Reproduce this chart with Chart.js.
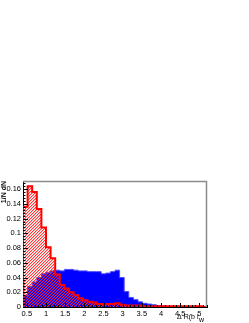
<!DOCTYPE html>
<html>
<head>
<meta charset="utf-8">
<script src="https://cdn.jsdelivr.net/npm/chart.js@4.4.0/dist/chart.umd.min.js"></script>
<style>
  html, body { margin: 0; padding: 0; background: #fff; }
  #wrap { width: 249px; height: 323px; }
</style>
</head>
<body>
<div id="wrap"><canvas id="drChart" width="249" height="323"></canvas></div>
<script>
// histogram binning: 40 bins of 0.12 from 0.4 to 5.2
const binLow = 0.4;
const binWidth = 0.12;

// red hatched histogram (normalised)
const redValues = [
  0.019, 0.136, 0.164, 0.156, 0.133, 0.108, 0.081, 0.066, 0.044, 0.030,
  0.025, 0.020, 0.016, 0.012, 0.009, 0.007, 0.006, 0.004, 0.004, 0.004,
  0.004, 0.005, 0.003, 0.002, 0.002, 0.002, 0.002, 0.001, 0.001, 0.001,
  0.001, 0.001, 0.001, 0.001, 0.001, 0.001, 0.001, 0.001, 0.001, 0.001
];

// solid blue histogram (normalised)
const blueValues = [
  0.007, 0.016, 0.028, 0.034, 0.040, 0.045, 0.047, 0.049, 0.050, 0.049,
  0.051, 0.051, 0.050, 0.049, 0.049, 0.048, 0.048, 0.048, 0.045, 0.046,
  0.048, 0.050, 0.040, 0.021, 0.013, 0.010, 0.007, 0.005, 0.004, 0.003,
  0.002, 0.0015, 0.001, 0.001, 0.001, 0.0005, 0, 0, 0, 0
];

const xTickValues = [0.5, 1, 1.5, 2, 2.5, 3, 3.5, 4, 4.5, 5];
const xTickLabels = ["0.5", "1", "1.5", "2", "2.5", "3", "3.5", "4", "4.5", "5"];
const yTickValues = [0, 0.02, 0.04, 0.06, 0.08, 0.1, 0.12, 0.14, 0.16];
const yTickLabels = ["0", "0.02", "0.04", "0.06", "0.08", "0.1", "0.12", "0.14", "0.16"];

const xMin = 0.4, xMax = 5.2;
const yMin = 0, yMax = 0.171;

const tickFont = { family: "'Liberation Sans', Arial, sans-serif", size: 7.5 };

// build step outline points from bin values
function stepPoints(values) {
  const pts = [{ x: binLow, y: 0 }];
  values.forEach((v, i) => pts.push({ x: binLow + i * binWidth, y: v }));
  pts.push({ x: binLow + values.length * binWidth, y: 0 });
  return pts;
}

// diagonal red hatch, set pixel by pixel so there is no antialiasing
function makeHatch(target) {
  const n = 3;
  const c = document.createElement("canvas");
  c.width = n;
  c.height = n;
  const g = c.getContext("2d");
  const img = g.createImageData(n, n);
  for (let yy = 0; yy < n; yy++) {
    for (let xx = 0; xx < n; xx++) {
      const k = (yy * n + xx) * 4;
      const d = (xx + yy) % n;
      img.data[k] = 255;
      img.data[k + 1] = 40;
      img.data[k + 2] = 40;
      img.data[k + 3] = d === n - 1 ? 235 : (d === 0 ? 90 : 0);
    }
  }
  g.putImageData(img, 0, 0);
  return target.createPattern(c, "repeat");
}

// ROOT-like frame: grey top/right border, inward ticks, axis titles
const rootFrame = {
  id: "rootFrame",
  afterDraw(chart) {
    const ctx = chart.ctx;
    const a = chart.chartArea;
    const xs = chart.scales.x;
    const ys = chart.scales.y;
    ctx.save();

    ctx.strokeStyle = "#8c8c8c";
    ctx.lineWidth = 1.5;
    ctx.beginPath();
    ctx.moveTo(a.left, a.top + 0.5);
    ctx.lineTo(a.right - 0.5, a.top + 0.5);
    ctx.lineTo(a.right - 0.5, a.bottom);
    ctx.stroke();

    ctx.strokeStyle = "#000";
    ctx.lineWidth = 1;
    ctx.beginPath();
    for (let v = 0.5; v <= xMax + 1e-9; v += 0.1) {
      const px = Math.round(xs.getPixelForValue(v)) + 0.5;
      const major = Math.abs(v * 2 - Math.round(v * 2)) < 1e-6;
      ctx.moveTo(px, a.bottom);
      ctx.lineTo(px, a.bottom - (major ? 4 : 2));
    }
    for (let v = 0; v <= yMax + 1e-9; v += 0.004) {
      const py = Math.round(ys.getPixelForValue(v)) + 0.5;
      const major = Math.abs(v / 0.02 - Math.round(v / 0.02)) < 1e-6;
      ctx.moveTo(a.left, py);
      ctx.lineTo(a.left + (major ? 5 : 2.5), py);
    }
    ctx.stroke();

    ctx.fillStyle = "#000";
    ctx.font = "7px 'Liberation Sans', Arial, sans-serif";
    ctx.textAlign = "right";
    ctx.textBaseline = "alphabetic";
    ctx.fillText("w", a.right - 3, 322);
    const wW = ctx.measureText("w").width;
    ctx.fillText("\u0394 R(b l", a.right - 3 - wW - 0.5, 319);

    ctx.translate(6, a.top);
    ctx.rotate(-Math.PI / 2);
    ctx.font = "bold 7px 'Liberation Sans', Arial, sans-serif";
    ctx.textAlign = "right";
    ctx.fillText("1/N dN", 0, 0);
    ctx.restore();
  }
};

const ctx = document.getElementById("drChart").getContext("2d");

new Chart(ctx, {
  type: "line",
  data: {
    datasets: [
      {
        label: "red",
        data: stepPoints(redValues),
        stepped: "after",
        borderColor: "#ff0000",
        borderWidth: 2,
        backgroundColor: makeHatch(ctx),
        fill: "origin",
        pointRadius: 0,
        order: 0
      },
      {
        label: "blue",
        data: stepPoints(blueValues),
        stepped: "after",
        borderColor: "#4d4dff",
        borderWidth: 1,
        backgroundColor: "#0000ff",
        fill: "origin",
        pointRadius: 0,
        order: 1
      }
    ]
  },
  options: {
    responsive: false,
    animation: false,
    layout: { padding: { top: 181, right: 42, left: 0, bottom: 0 } },
    plugins: {
      legend: { display: false },
      tooltip: { enabled: false },
      filler: { drawTime: "beforeDatasetDraw" }
    },
    scales: {
      x: {
        type: "linear",
        min: xMin,
        max: xMax,
        afterBuildTicks: (s) => { s.ticks = xTickValues.map((v) => ({ value: v })); },
        afterFit: (s) => { s.height = 16; },
        grid: { display: false, drawTicks: false },
        border: { display: true, color: "#000", width: 1 },
        ticks: {
          color: "#000",
          font: tickFont,
          padding: 2,
          maxRotation: 0,
          autoSkip: false,
          callback: (v, i) => xTickLabels[i]
        }
      },
      y: {
        min: yMin,
        max: yMax,
        afterBuildTicks: (s) => { s.ticks = yTickValues.map((v) => ({ value: v })); },
        afterFit: (s) => { s.width = 23; },
        grid: { display: false, drawTicks: false },
        border: { display: true, color: "#000", width: 1 },
        ticks: {
          color: "#000",
          font: tickFont,
          padding: 2,
          autoSkip: false,
          callback: (v, i) => yTickLabels[i]
        }
      }
    }
  },
  plugins: [rootFrame]
});
</script>
</body>
</html>
